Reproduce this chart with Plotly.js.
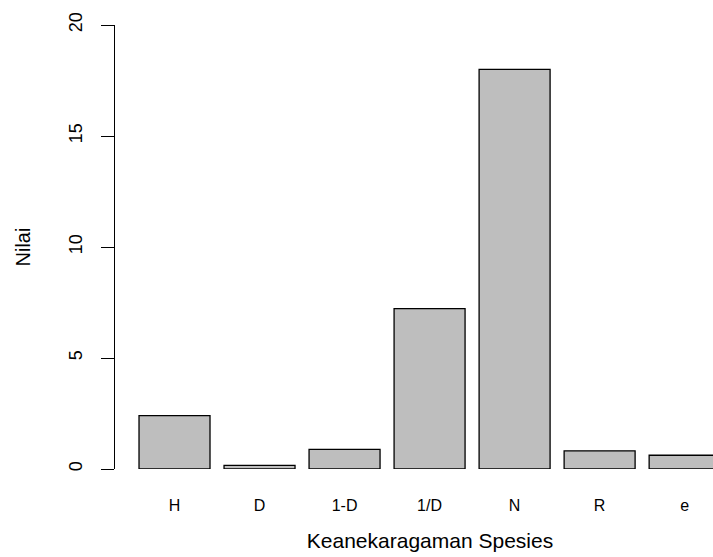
<!DOCTYPE html>
<html>
<head>
<meta charset="utf-8">
<script src="https://cdn.plot.ly/plotly-3.0.1.min.js"></script>
<style>
html, body { margin: 0; padding: 0; overflow: hidden; background: #fff; }
#chart { width: 745px; height: 557px; }
</style>
</head>
<body>
<div id="chart"></div>
<script>
const categories = ["H", "D", "1-D", "1/D", "N", "R", "e"];
const values = [2.40, 0.16, 0.88, 7.22, 18.0, 0.82, 0.62];
const yTicks = [0, 5, 10, 15, 20];

const trace = {
  type: "bar",
  x: categories,
  y: values,
  marker: { color: "#bebebe", line: { color: "#000000", width: 1.3 } },
  hoverinfo: "x+y"
};

const layout = {
  width: 745,
  height: 557,
  margin: { l: 115, r: 0, t: 25, b: 88 },
  paper_bgcolor: "#ffffff",
  plot_bgcolor: "#ffffff",
  font: { family: "Liberation Sans, Arial, sans-serif", color: "#000000" },
  bargap: 0.165,
  showlegend: false,
  xaxis: {
    type: "category",
    range: [-0.7, 6.71],
    showline: false,
    showgrid: false,
    zeroline: false,
    ticks: "",
    tickfont: { size: 16 },
    ticklabelstandoff: 25,
    title: { text: "Keanekaragaman Spesies", font: { size: 21 }, standoff: 20 },
    automargin: false
  },
  yaxis: {
    range: [0, 20],
    tickvals: yTicks,
    ticktext: yTicks.map(String),
    showline: true,
    linecolor: "#000000",
    linewidth: 1,
    showgrid: false,
    zeroline: false,
    ticks: "outside",
    ticklen: 13,
    tickcolor: "#000000",
    tickwidth: 1,
    tickangle: -90,
    tickfont: { size: 18 },
    ticklabelstandoff: 12,
    title: { text: "Nilai", font: { size: 20 }, standoff: 29 },
    automargin: false
  }
};

Plotly.newPlot("chart", [trace], layout, { displayModeBar: false, staticPlot: true });
</script>
</body>
</html>
